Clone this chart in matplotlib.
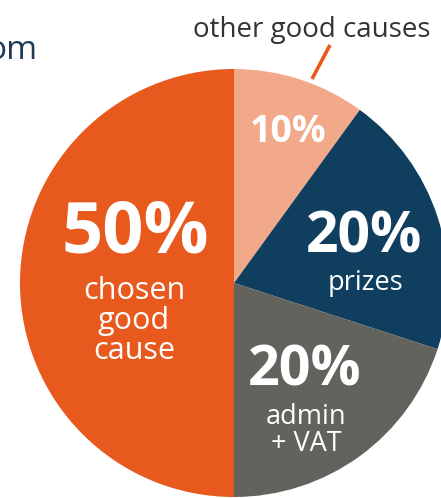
import matplotlib
matplotlib.use("Agg")
import matplotlib.pyplot as plt

# Data
categories = ["other good causes", "prizes", "admin + VAT", "chosen good cause"]
values = [10, 20, 20, 50]
colors = ["#F2A98A", "#0F3E5F", "#63635E", "#E8591E"]
pct_labels = ["10%", "20%", "20%", "50%"]

W, H = 441, 498
fig = plt.figure(figsize=(W / 100, H / 100), dpi=100)
ax = fig.add_axes([0, 0, 1, 1])

def Y(y):
    return H - y

cx, cy, r = 234, 283, 214
ax.pie(values, colors=colors, startangle=90, counterclock=False,
       center=(cx, Y(cy)), radius=r, frame=True,
       wedgeprops=dict(linewidth=0))
ax.set_xlim(0, W)
ax.set_ylim(0, H)
ax.set_aspect("equal")
ax.axis("off")

fam = ["Open Sans", "DejaVu Sans"]
white = "white"

# Percentage labels
ax.text(288, Y(142), pct_labels[0], color=white, fontsize=27, fontweight="bold",
        ha="center", va="baseline", family=fam)
ax.text(364, Y(252), pct_labels[1], color=white, fontsize=41, fontweight="bold",
        ha="center", va="baseline", family=fam)
ax.text(305, Y(385), pct_labels[2], color=white, fontsize=40, fontweight="bold",
        ha="center", va="baseline", family=fam)
ax.text(135, Y(252), pct_labels[3], color=white, fontsize=52, fontweight="bold",
        ha="center", va="baseline", family=fam)

# Category labels inside
ax.text(366, Y(290), "prizes", color=white, fontsize=19.5, ha="center", va="baseline", family=fam)
for i, line in enumerate(["chosen", "good", "cause"]):
    ax.text(134, Y(299 + 30 * i), line, color=white, fontsize=22,
            ha="center", va="baseline", family=fam)
for i, line in enumerate(["admin", "+ VAT"]):
    ax.text(306, Y(424 + 27 * i), line, color=white, fontsize=19.5,
            ha="center", va="baseline", family=fam)

# Outside label and leader line
ax.text(312, Y(37), categories[0], color="#333333", fontsize=20,
        ha="center", va="baseline", family=fam)
ax.plot([330, 312], [Y(45), Y(79)], color="#E8591E", linewidth=2.6,
        solid_capstyle="butt")

# Cropped heading fragment
ax.text(37, Y(59), "om", color="#1D3A56", fontsize=24, ha="right",
        va="baseline", family=fam)

fig.savefig("out.png", dpi=100)
